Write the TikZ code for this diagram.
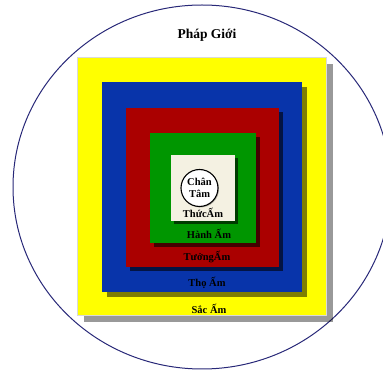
\documentclass[tikz,border=0pt]{standalone}
\usepackage{fontspec}
\setmainfont{Liberation Serif}
\usetikzlibrary{shadows,shapes.geometric}
\definecolor{sacY}{RGB}{255,255,0}
\definecolor{thoB}{RGB}{8,52,170}
\definecolor{tuongR}{RGB}{170,0,0}
\definecolor{hanhG}{RGB}{0,150,0}
\definecolor{thucC}{RGB}{244,241,226}
\definecolor{rim}{RGB}{40,40,120}
\tikzset{
  layer/.style={rectangle, inner sep=0pt, draw=none},
  lbl/.style={font=\bfseries\fontsize{10.5}{12}\selectfont, inner sep=0pt, text=black},
}
\begin{document}
\begin{tikzpicture}[x=1pt,y=-1pt]
\useasboundingbox (0,0) rectangle (383,371);
\clip (0,0) rectangle (383,371);
\node[ellipse, draw=rim, line width=1pt, minimum width=378pt, minimum height=364pt, inner sep=0pt] (gioi) at (202,187) {};
\node[layer, fill=sacY, draw=black!15, line width=0.6pt, minimum width=249pt, minimum height=258pt,
  drop shadow={shadow xshift=7pt, shadow yshift=-7pt, fill=black, opacity=0.4}] (sac) at (201.5,186) {};
\node[layer, fill=thoB, minimum width=200pt, minimum height=210pt,
  drop shadow={shadow xshift=5pt, shadow yshift=-5pt, fill=black, opacity=0.5}] (tho) at (202,187) {};
\node[layer, fill=tuongR, minimum width=153pt, minimum height=159pt,
  drop shadow={shadow xshift=4pt, shadow yshift=-4pt, fill=black, opacity=0.6}] (tuong) at (202.5,187.5) {};
\node[layer, fill=hanhG, minimum width=106pt, minimum height=110pt,
  drop shadow={shadow xshift=4pt, shadow yshift=-4pt, fill=black, opacity=0.6}] (hanh) at (203,188) {};
\node[layer, fill=thucC, minimum width=64pt, minimum height=66pt,
  drop shadow={shadow xshift=3pt, shadow yshift=-3pt, fill=black, opacity=0.6}] (thuc) at (203,188) {};
\node[circle, fill=white, draw=black, line width=1.1pt, minimum size=37pt, inner sep=0pt,
  drop shadow={shadow xshift=1pt, shadow yshift=-1pt, fill=black, opacity=0.25}] (tam) at (199.5,188) {};
\node[lbl, align=center, font=\bfseries\fontsize{10.5}{11.5}\selectfont] (tamtxt) at (tam.center) {Chân\\Tâm};
\node[lbl, font=\bfseries\fontsize{13.5}{15}\selectfont] (phapgioi) at (207,35) {Pháp Giới};
\node[lbl] (thucl) at (203,213) {ThứcẤm};
\node[lbl] (hanhl) at (209,234) {Hành Ấm};
\node[lbl] (tuongl) at (207,257) {TưởngẤm};
\node[lbl] (thol) at (207,283) {Thọ Ấm};
\node[lbl] (sacl) at (209,309) {Sắc Ấm};
\end{tikzpicture}
\end{document}
